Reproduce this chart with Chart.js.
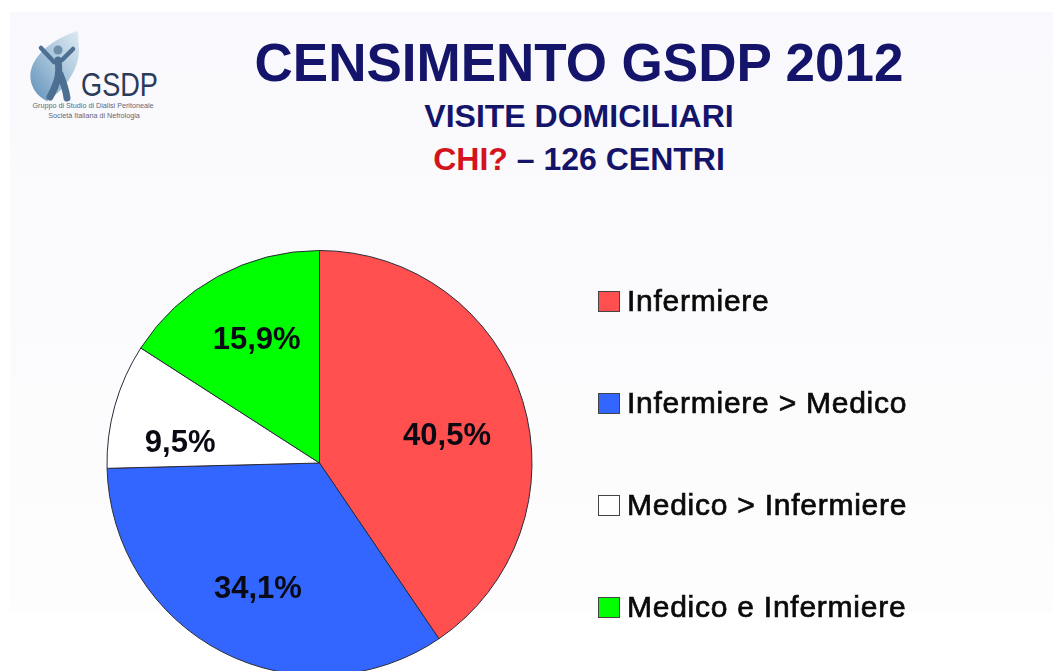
<!DOCTYPE html>
<html lang="it">
<head>
<meta charset="utf-8">
<title>Censimento GSDP 2012</title>
<script src="https://cdn.jsdelivr.net/npm/chart.js@4"></script>
<style>
	html, body { margin: 0; width: 1053px; height: 671px; overflow: hidden; background: #fff; }
	body { position: relative; font-family: 'Liberation Sans', Arial, sans-serif; }
	#panel {
		position: absolute; left: 10px; top: 12px; width: 1043px; height: 600px;
		background: linear-gradient(#f9f9fd, #fdfdfd);
	}
	#myChart { position: absolute; left: 0; top: 0; }
	.head { position: absolute; left: 0; width: 1158px; text-align: center; color: #14146a; white-space: nowrap; }
	#h1 { top: 33px; font-size: 53px; line-height: 60px; font-weight: bold; }
	#h2 { top: 98px; font-size: 32px; line-height: 36px; font-weight: bold; }
	#h3 { top: 141px; font-size: 32px; line-height: 36px; font-weight: bold; }
	#h3 span { color: #d4141c; }
	#legend { position: absolute; left: 598px; top: 250px; }
	#legend div { display: flex; align-items: center; height: 102px; }
	#legend i { width: 20px; height: 19px; border: 1px solid #444; box-sizing: content-box; margin-right: 7px; }
	#legend span { font-size: 30px; letter-spacing: 0.75px; color: #0a0a0a; white-space: nowrap; -webkit-text-stroke: 0.7px #0a0a0a; }
	#logo { position: absolute; left: 0; top: 0; }
</style>
</head>
<body>
<div id="panel"></div>
<svg id="logo" width="200" height="140" viewBox="0 0 200 140">
	<defs>
		<linearGradient id="leaf" x1="1" y1="0" x2="0" y2="1">
			<stop offset="0" stop-color="#dfeaf2"/>
			<stop offset="0.5" stop-color="#a5c3da"/>
			<stop offset="1" stop-color="#5f8fb8"/>
		</linearGradient>
	</defs>
	<path d="M78 31 C60 36 36 50 31 70 C28 84 36 96 47 101 C62 92 78 72 79 52 Z" fill="url(#leaf)"/>
	<g fill="none" stroke="#4d6f92" stroke-linecap="round">
		<path d="M41 48 L54 62 M73 49 L62 60" stroke-width="4.5"/>
		<path d="M58 60 C60 74 58 82 50 97 M60 74 C64 84 66 90 67 98" stroke-width="7"/>
	</g>
	<circle cx="58" cy="50" r="4.5" fill="#6f8ea8"/>
	<text x="81" y="96" font-size="33" textLength="77" lengthAdjust="spacingAndGlyphs" fill="#2b3b5a" font-family="'Liberation Sans', sans-serif">GSDP</text>
	<text x="93" y="108" font-size="7.2" text-anchor="middle" fill="#5b6780" font-family="'Liberation Sans', sans-serif">Gruppo di Studio di Dialisi Peritoneale</text>
	<text x="94" y="118" font-size="7.2" text-anchor="middle" fill="#5b6780" font-family="'Liberation Sans', sans-serif">Società Italiana di Nefrologia</text>
</svg>
<div class="head" id="h1">CENSIMENTO GSDP 2012</div>
<div class="head" id="h2">VISITE DOMICILIARI</div>
<div class="head" id="h3"><span>CHI?</span> – 126 CENTRI</div>
<canvas id="myChart" width="1053" height="720"></canvas>
<div id="legend"></div>
<script>
const categories = ['Infermiere', 'Infermiere > Medico', 'Medico > Infermiere', 'Medico e Infermiere']
const shares = [40.5, 34.1, 9.5, 15.9]
const sliceColors = ['#ff4f4f', '#3366ff', '#ffffff', '#00ff00']
// nudges from each slice's centre to where its percentage sits
const labelNudgeX = [26, -13, -37, -12]
const labelNudgeY = [5, 32, 9, -29]

const percentText = (v) => v.toFixed(1).replace('.', ',') + '%'

const sliceLabels = {
	id: 'sliceLabels',
	afterDatasetsDraw(chart) {
		const ctx = chart.ctx
		ctx.save()
		ctx.font = 'bold 31px "Liberation Sans", Arial, sans-serif'
		ctx.fillStyle = '#0a0a14'
		ctx.textAlign = 'center'
		ctx.textBaseline = 'middle'
		chart.getDatasetMeta(0).data.forEach((arc, i) => {
			const p = arc.tooltipPosition()
			ctx.fillText(percentText(shares[i]), p.x + labelNudgeX[i], p.y + labelNudgeY[i])
		})
		ctx.restore()
	},
}

const config = {
	type: 'pie',
	data: {
		labels: categories,
		datasets: [
			{
				data: shares,
				backgroundColor: sliceColors,
				borderColor: '#2a2a3a',
				borderWidth: 1,
			},
		],
	},
	options: {
		responsive: false,
		animation: false,
		layout: { padding: { left: 106, right: 520, top: 250, bottom: 44 } },
		plugins: {
			legend: { display: false },
			tooltip: { enabled: false },
		},
	},
	plugins: [sliceLabels],
}

new Chart(document.getElementById('myChart'), config)

// legend sits in its own block so the rows can keep their wide spacing
const legendBox = document.getElementById('legend')
categories.forEach((name, i) => {
	const row = document.createElement('div')
	const swatch = document.createElement('i')
	const text = document.createElement('span')
	swatch.style.background = sliceColors[i]
	text.textContent = name
	row.append(swatch, text)
	legendBox.append(row)
})
</script>
</body>
</html>
